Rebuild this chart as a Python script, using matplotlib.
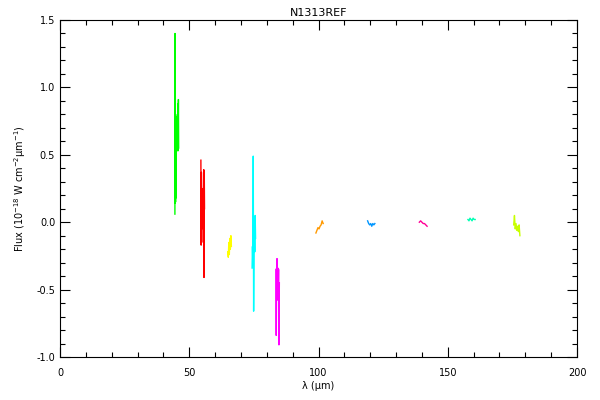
import matplotlib
matplotlib.use('Agg')
import matplotlib.pyplot as plt
from matplotlib.ticker import MultipleLocator

# spectral segments: wavelength (um) and flux (1e-18 W cm-2 um-1)
lam_green = [44.45, 44.50, 44.55, 44.60, 44.70, 44.80, 44.90, 45.00, 45.10, 45.20, 45.30, 45.40, 45.50, 45.60, 45.70, 45.80, 45.90]
flux_green = [0.06, 1.40, 0.14, 0.71, 0.15, 0.70, 0.18, 0.68, 0.55, 0.78, 0.53, 0.80, 0.54, 0.88, 0.53, 0.91, 0.55]

lam_red = [54.5, 54.6, 54.7, 54.8, 54.9, 55.0, 55.1, 55.2, 55.3, 55.4, 55.5, 55.6, 55.7, 55.8, 55.9]
flux_red = [0.46, -0.17, 0.37, -0.15, 0.23, 0.0, 0.22, 0.02, 0.25, -0.05, 0.20, 0.39, -0.41, 0.38, 0.10]

lam_yellow = [64.9, 65.1, 65.3, 65.5, 65.7, 65.9, 66.1, 66.3]
flux_yellow = [-0.22, -0.26, -0.15, -0.24, -0.12, -0.20, -0.10, -0.18]

lam_cyan = [74.3, 74.45, 74.6, 74.75, 74.9, 75.05, 75.2, 75.35, 75.5, 75.65]
flux_cyan = [-0.34, -0.18, -0.30, 0.49, -0.66, -0.20, -0.05, -0.22, 0.05, -0.12]

lam_magenta = [83.5, 83.65, 83.8, 83.95, 84.1, 84.25, 84.4, 84.55, 84.7, 84.85]
flux_magenta = [-0.35, -0.84, -0.36, -0.27, -0.50, -0.34, -0.58, -0.35, -0.91, -0.45]

lam_orange = [99.0, 99.4, 99.8, 100.2, 100.6, 101.0, 101.4, 101.8]
flux_orange = [-0.08, -0.06, -0.04, -0.05, -0.03, -0.02, 0.01, -0.01]

lam_blue = [119.0, 119.4, 119.8, 120.2, 120.6, 121.0, 121.4, 121.8]
flux_blue = [0.01, -0.01, -0.02, -0.01, -0.03, -0.01, -0.02, -0.01]

lam_pink = [139.0, 139.5, 140.0, 140.5, 141.0, 141.5, 142.0]
flux_pink = [0.0, 0.01, 0.0, -0.01, -0.01, -0.02, -0.03]

lam_teal = [157.8, 158.2, 158.6, 159.0, 159.4, 159.8, 160.2, 160.6]
flux_teal = [0.02, 0.01, 0.03, 0.02, 0.01, 0.03, 0.02, 0.02]

lam_lime = [175.5, 175.8, 176.1, 176.4, 176.7, 177.0, 177.3, 177.6, 177.9]
flux_lime = [-0.02, 0.05, -0.05, -0.01, -0.06, -0.03, -0.07, -0.02, -0.10]

segments = [
    (lam_green, flux_green, '#00ff00'),
    (lam_red, flux_red, '#ff0000'),
    (lam_yellow, flux_yellow, '#ffff00'),
    (lam_cyan, flux_cyan, '#00ffff'),
    (lam_magenta, flux_magenta, '#ff00ff'),
    (lam_orange, flux_orange, '#ff9900'),
    (lam_blue, flux_blue, '#0096ff'),
    (lam_pink, flux_pink, '#ff0096'),
    (lam_teal, flux_teal, '#00ffb4'),
    (lam_lime, flux_lime, '#c8ff00'),
]

fig = plt.figure(figsize=(6, 4), dpi=100)
ax = fig.add_axes([0.1, 0.1075, 0.8617, 0.8425])

for lam, flux, col in segments:
    ax.plot(lam, flux, color=col, lw=1.0)

ax.set_xlim(0, 200)
ax.set_ylim(-1.0, 1.5)
ax.xaxis.set_major_locator(MultipleLocator(50))
ax.xaxis.set_minor_locator(MultipleLocator(10))
ax.yaxis.set_major_locator(MultipleLocator(0.5))
ax.yaxis.set_minor_locator(MultipleLocator(0.1))
ax.yaxis.set_major_formatter(plt.FormatStrFormatter('%.1f'))
ax.tick_params(which='both', direction='in', top=True, right=True, labelsize=7, width=0.8)
ax.tick_params(which='major', length=7)
ax.tick_params(which='minor', length=3.5)
ax.tick_params(axis='x', pad=8)
for s in ax.spines.values():
    s.set_linewidth(0.8)

ax.set_title('N1313REF', fontsize=8, pad=3)
ax.set_xlabel('λ (μm)', fontsize=7, labelpad=2)
ax.set_ylabel(r'Flux (10$^{\mathregular{-18}}$ W cm$^{\mathregular{-2}}$μm$^{\mathregular{-1}}$)',
              fontsize=7, labelpad=6)

fig.savefig('out.png', dpi=100)
